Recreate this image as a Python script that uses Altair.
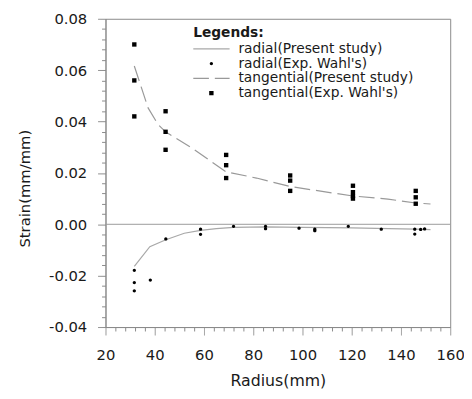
import altair as alt
import pandas as pd

# ---------------- data ----------------
series_names = [
    "radial(Present study)",
    "radial(Exp. Wahl's)",
    "tangential(Present study)",
    "tangential(Exp. Wahl's)",
]

radial_curve_r = [31.7, 38.0, 44.5, 52.0, 58.6, 65.0, 72.0, 85.0, 100.0, 120.0, 135.0, 146.0, 152.0]
radial_curve_s = [-0.0164, -0.0087, -0.0060, -0.0035, -0.0024, -0.0017, -0.0012, -0.0010,
                  -0.0012, -0.0014, -0.0017, -0.0019, -0.0021]

tang_curve_r = [31.7, 37.3, 41.3, 44.4, 54.6, 69.0, 81.3, 95.0, 108.0, 120.6, 134.7, 146.0, 152.0]
tang_curve_s = [0.0616, 0.0453, 0.0389, 0.0360, 0.0300, 0.0204, 0.0180, 0.0147, 0.0128,
                0.0110, 0.0098, 0.0083, 0.0079]

radial_exp_r = [31.7, 31.7, 31.7, 38.2, 44.5, 58.6, 58.6, 72.0, 85.0, 85.0, 98.6, 105.0,
                105.0, 118.6, 132.0, 145.6, 145.6, 148.0, 149.6]
radial_exp_s = [-0.0179, -0.0227, -0.0259, -0.0217, -0.0057, -0.0019, -0.0039, -0.0008,
                -0.0008, -0.0017, -0.0015, -0.0019, -0.0025, -0.0008, -0.0019, -0.0019,
                -0.0038, -0.0020, -0.0018]

tang_exp_r = [31.7, 31.7, 31.7, 44.4, 44.4, 44.4, 69.0, 69.0, 69.0, 95.0, 95.0, 95.0,
              120.5, 120.5, 120.5, 120.5, 146.0, 146.0, 146.0]
tang_exp_s = [0.070, 0.056, 0.042, 0.044, 0.036, 0.029, 0.027, 0.023, 0.018, 0.019, 0.017,
              0.013, 0.015, 0.0125, 0.011, 0.010, 0.013, 0.0105, 0.008]

zero_line = [0.0]

x_ticks = [20, 24, 28, 32, 36, 40, 44, 48, 52, 56, 60, 64, 68, 72, 76, 80, 84, 88, 92, 96,
           100, 104, 108, 112, 116, 120, 124, 128, 132, 136, 140, 144, 148, 152, 156, 160]
y_ticks = [-0.04, -0.036, -0.032, -0.028, -0.024, -0.02, -0.016, -0.012, -0.008, -0.004,
           0.0, 0.004, 0.008, 0.012, 0.016, 0.02, 0.024, 0.028, 0.032, 0.036, 0.04,
           0.044, 0.048, 0.052, 0.056, 0.06, 0.064, 0.068, 0.072, 0.076, 0.08]

# ---------------- tables ----------------
df_rad_line = pd.DataFrame({"r": radial_curve_r, "s": radial_curve_s})
df_tan_line = pd.DataFrame({"r": tang_curve_r, "s": tang_curve_s})
df_pts = pd.concat([
    pd.DataFrame({"r": radial_exp_r, "s": radial_exp_s, "series": series_names[1]}),
    pd.DataFrame({"r": tang_exp_r, "s": tang_exp_s, "series": series_names[3]}),
], ignore_index=True)
df_zero = pd.DataFrame({"s": zero_line})

FONT = "DejaVu Sans"
TXT = "#1a1a1a"
GRAY = "#8a8a8a"
SYM = 1369  # symbol box (37 px); shapes below are drawn inside it

x_major = "datum.value % 20 === 0"
y_major = "abs(datum.value * 50 - round(datum.value * 50)) < 0.01"

x_scale = alt.Scale(domain=[20, 160], nice=False, zero=False)
y_scale = alt.Scale(domain=[-0.04, 0.08], nice=False, zero=False)

x_enc = alt.X(
    "r:Q", scale=x_scale,
    axis=alt.Axis(
        title="Radius(mm)", orient="bottom", values=x_ticks, format="d",
        labelExpr=f"{x_major} ? datum.label : ''",
        tickSize=8,
        tickDash={"condition": {"test": f"!({x_major})", "value": [4, 8]}, "value": [1, 0]},
        labelFlush=False, labelOverlap=False, labelPadding=13,
        titlePadding=10, titleFontSize=16, titleFontWeight="normal",
    ),
)
y_enc = alt.Y(
    "s:Q", scale=y_scale,
    axis=alt.Axis(
        title="Strain(mm/mm)", orient="left", values=y_ticks, format=".2f",
        labelExpr=f"{y_major} ? replace(datum.label, '\u2212', '-') : ''",
        tickSize=8,
        tickDash={"condition": {"test": f"!({y_major})", "value": [4, 8]}, "value": [1, 0]},
        labelFlush=False, labelOverlap=False, labelPadding=11,
        titlePadding=16, titleFontSize=15, titleY=172, titleFontWeight="normal",
    ),
)

# legend / point shapes (custom paths inside a -1..1 box)
line_solid = "M-1,-0.035H1V0.035H-1Z"
line_dashed = "M-1,-0.035H-0.135V0.035H-1Z M0.189,-0.035H1V0.035H0.189Z"
dot_path = "M-0.09,0A0.09,0.09,0,1,0,0.09,0A0.09,0.09,0,1,0,-0.09,0Z"
square_path = "M-0.12,-0.12H0.12V0.12H-0.12Z"

legend = alt.Legend(
    title="Legends:", orient="none", legendX=89, legendY=7, direction="vertical",
    titleFont=FONT, titleFontSize=14, titleFontWeight="bold", titleColor=TXT, titlePadding=2,
    labelFont=FONT, labelFontSize=14, labelColor=TXT, labelOffset=9, labelLimit=0,
    rowPadding=0, clipHeight=15, symbolSize=SYM, symbolStrokeWidth=0, symbolOpacity=1,
)

color_enc = alt.Color(
    "series:N",
    scale=alt.Scale(domain=series_names, range=["#a8a8a8", "#000000", "#999999", "#000000"]),
    legend=legend,
)
shape_enc = alt.Shape(
    "series:N",
    scale=alt.Scale(domain=series_names, range=[line_solid, dot_path, line_dashed, square_path]),
    legend=legend,
)

zero_rule = alt.Chart(df_zero).mark_rule(color="#9a9a9a", strokeWidth=1).encode(y=y_enc)
rad_line = alt.Chart(df_rad_line).mark_line(color="#a8a8a8", strokeWidth=1.2).encode(x=x_enc, y=y_enc)
tan_line = alt.Chart(df_tan_line).mark_line(color="#999999", strokeWidth=1.2, strokeDash=[16, 6]).encode(
    x=x_enc, y=y_enc
)
pts = alt.Chart(df_pts).mark_point(filled=True, size=SYM, opacity=1, strokeWidth=0).encode(
    x=x_enc, y=y_enc, color=color_enc, shape=shape_enc
)

chart = (
    alt.layer(zero_rule, rad_line, tan_line, pts)
    .properties(
        width=350,
        height=313,
        autosize=alt.AutoSizeParams(type="none"),
        padding={"left": 99, "top": 8, "right": 14, "bottom": 62},
        background="white",
    )
    .configure_view(stroke=GRAY, strokeWidth=1)
    .configure_axis(
        grid=False,
        domainColor=GRAY,
        tickColor=GRAY,
        labelFont=FONT,
        labelFontSize=15,
        labelColor=TXT,
        titleFont=FONT,
        titleFontWeight="normal",
        titleColor=TXT,
    )
)

chart.save("out.html", embed_options={"renderer": "svg", "actions": False})
